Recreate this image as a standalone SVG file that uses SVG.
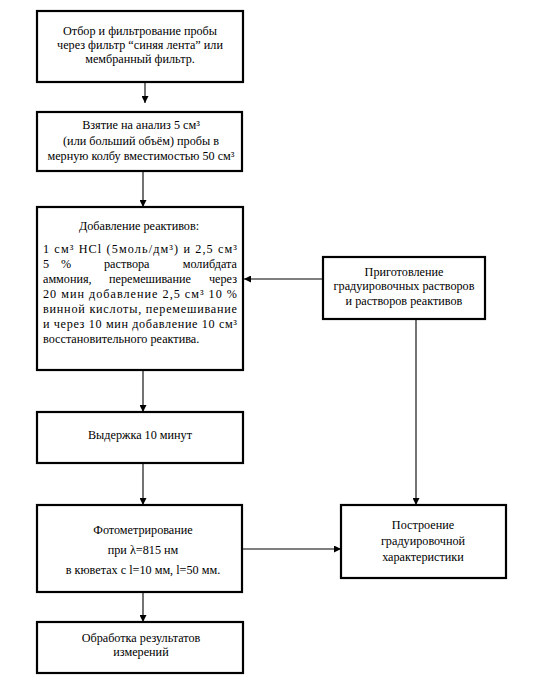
<svg xmlns="http://www.w3.org/2000/svg" width="536" height="687" viewBox="0 0 536 687">
<style>
.box{fill:#fff;stroke:#000;stroke-width:2.2}
.t{font-family:"Liberation Serif","Times New Roman",serif;font-size:12.2px;fill:#000;text-anchor:middle}
.l{font-family:"Liberation Serif","Times New Roman",serif;font-size:12.2px;fill:#000}
.c{stroke:#000;stroke-width:1.1;fill:none}
</style>
<defs>
<marker id="ah" viewBox="0 0 10 10" refX="10" refY="5" markerWidth="7" markerHeight="7" orient="auto" markerUnits="userSpaceOnUse">
<path d="M0,0 L10,5 L0,10 z" fill="#000"/>
</marker>
</defs>
<rect width="536" height="687" fill="#fff"/>
<g id="connectors">
<line class="c" x1="145" y1="82" x2="145" y2="103" marker-end="url(#ah)"/>
<line class="c" x1="143" y1="171" x2="143" y2="207" marker-end="url(#ah)"/>
<line class="c" x1="322" y1="279" x2="244" y2="279" marker-end="url(#ah)"/>
<line class="c" x1="143" y1="370" x2="143" y2="412" marker-end="url(#ah)"/>
<line class="c" x1="416" y1="319" x2="416" y2="505" marker-end="url(#ah)"/>
<line class="c" x1="143" y1="463" x2="143" y2="505" marker-end="url(#ah)"/>
<line class="c" x1="243" y1="549" x2="341" y2="549" marker-end="url(#ah)"/>
<line class="c" x1="143" y1="592" x2="143" y2="622" marker-end="url(#ah)"/>
</g>
<g id="n1">
<rect class="box" x="37" y="11" width="206" height="71"/>
<text class="t" x="140" y="35">Отбор и фильтрование пробы</text>
<text class="t" x="140" y="49">через фильтр “синяя лента” или</text>
<text class="t" x="140" y="63">мембранный фильтр.</text>
</g>
<g id="n2">
<rect class="box" x="37" y="112" width="205" height="59"/>
<text class="t" x="141" y="129">Взятие на анализ 5 см³</text>
<text class="t" x="141" y="145">(или больший объём) пробы в</text>
<text class="t" x="141" y="160">мерную колбу вместимостью 50 см³</text>
</g>
<g id="n3">
<rect class="box" x="37" y="207" width="206" height="163"/>
<text class="t" x="139" y="230">Добавление реактивов:</text>
<text class="l" x="43" y="253" textLength="194" lengthAdjust="spacing">1 см³ HCl (5моль/дм³) и 2,5 см³</text>
<text class="l" y="268"><tspan x="43">5</tspan><tspan x="61">%</tspan><tspan x="104">раствора</tspan><tspan x="237" text-anchor="end">молибдата</tspan></text>
<text class="l" y="283"><tspan x="43">аммония,</tspan><tspan x="109">перемешивание</tspan><tspan x="237" text-anchor="end">через</tspan></text>
<text class="l" x="43" y="298" textLength="194" lengthAdjust="spacing">20 мин добавление 2,5 см³ 10 %</text>
<text class="l" x="43" y="313" textLength="194" lengthAdjust="spacing">винной кислоты, перемешивание</text>
<text class="l" x="43" y="328" textLength="194" lengthAdjust="spacing">и через 10 мин добавление 10 см³</text>
<text class="l" x="43" y="343">восстановительного реактива.</text>
</g>
<g id="n4">
<rect class="box" x="323" y="257" width="162" height="62"/>
<text class="t" x="404" y="276">Приготовление</text>
<text class="t" x="404" y="290">градуировочных растворов</text>
<text class="t" x="404" y="305">и растворов реактивов</text>
</g>
<g id="n5">
<rect class="box" x="37" y="412" width="206" height="51"/>
<text class="t" x="140" y="439">Выдержка 10 минут</text>
</g>
<g id="n6">
<rect class="box" x="37" y="505" width="205" height="87"/>
<text class="t" x="143" y="534">Фотометрирование</text>
<text class="t" x="143" y="554">при λ=815 нм</text>
<text class="t" x="143" y="574">в кюветах с l=10 мм, l=50 мм.</text>
</g>
<g id="n7">
<rect class="box" x="341" y="505" width="165" height="73"/>
<text class="t" x="423" y="529">Построение</text>
<text class="t" x="423" y="545">градуировочной</text>
<text class="t" x="423" y="561">характеристики</text>
</g>
<g id="n8">
<rect class="box" x="37" y="622" width="206" height="51"/>
<text class="t" x="141" y="642">Обработка результатов</text>
<text class="t" x="141" y="656">измерений</text>
</g>
</svg>
